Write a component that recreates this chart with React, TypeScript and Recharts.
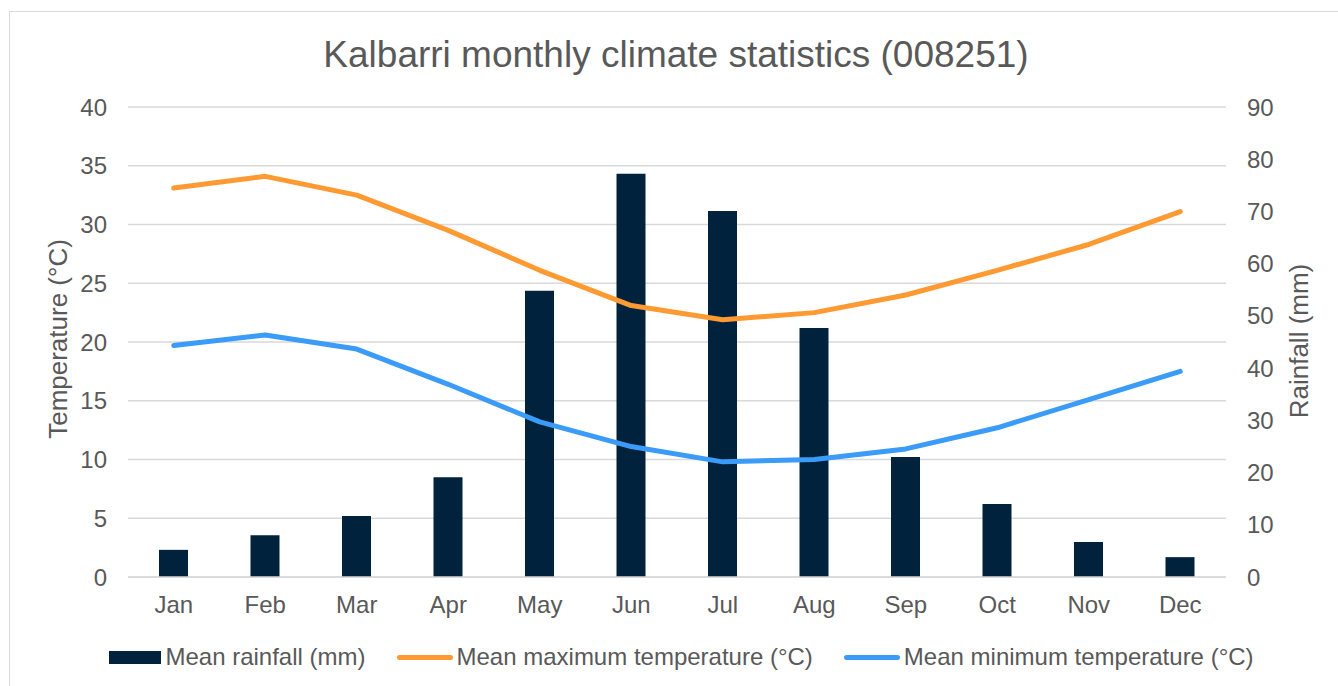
import {
  Bar,
  CartesianGrid,
  ComposedChart,
  Legend,
  Line,
  XAxis,
  YAxis,
} from "recharts";

const months = ["Jan", "Feb", "Mar", "Apr", "May", "Jun", "Jul", "Aug", "Sep", "Oct", "Nov", "Dec"];
const rainfall = [5.2, 8.0, 11.7, 19.1, 54.8, 77.2, 70.1, 47.7, 23.0, 14.0, 6.7, 3.8];
const maxTemp = [33.1, 34.1, 32.5, 29.5, 26.1, 23.1, 21.9, 22.5, 24.0, 26.1, 28.3, 31.1];
const minTemp = [19.7, 20.6, 19.4, 16.4, 13.2, 11.1, 9.8, 10.0, 10.9, 12.7, 15.1, 17.5];
const tempTicks = [0, 5, 10, 15, 20, 25, 30, 35, 40];
const rainTicks = [0, 10, 20, 30, 40, 50, 60, 70, 80, 90];

const data = months.map((m, i) => ({
  month: m,
  rain: rainfall[i],
  max: maxTemp[i],
  min: minTemp[i],
}));

const FONT = "'Liberation Sans', Arial, sans-serif";
const TEXT = "#595959";
const GRID = "#d9d9d9";
const NAVY = "#00223d";
const ORANGE = "#ff9a33";
const BLUE = "#3a9bf8";

const legendItems = [
  { label: "Mean rainfall (mm)", color: NAVY, kind: "bar" },
  { label: "Mean maximum temperature (°C)", color: ORANGE, kind: "line" },
  { label: "Mean minimum temperature (°C)", color: BLUE, kind: "line" },
];

function ChartLegend() {
  return (
    <div
      style={{
        display: "flex",
        justifyContent: "center",
        alignItems: "center",
        height: 40,
        paddingLeft: 25,
        gap: 31,
        fontFamily: FONT,
        fontSize: 24,
        color: TEXT,
      }}
    >
      {legendItems.map((it) => (
        <div key={it.label} style={{ display: "flex", alignItems: "center", gap: 4 }}>
          {it.kind === "bar" ? (
            <div style={{ width: 52, height: 13, background: it.color }} />
          ) : (
            <div style={{ width: 56, height: 5, borderRadius: 3, background: it.color }} />
          )}
          <span style={{ whiteSpace: "nowrap" }}>{it.label}</span>
        </div>
      ))}
    </div>
  );
}

export default function App() {
  return (
    <div
      style={{
        position: "absolute",
        left: 0,
        top: 0,
        width: 1338,
        height: 686,
        overflow: "hidden",
        background: "#fff",
      }}
    >
      <div
        style={{
          position: "absolute",
          left: 9,
          top: 11,
          width: 1340,
          height: 700,
          border: `1px solid ${GRID}`,
        }}
      />
      <div
        style={{
          position: "absolute",
          left: 0,
          top: 32,
          width: 1352,
          textAlign: "center",
          fontFamily: FONT,
          fontSize: 37,
          color: TEXT,
          lineHeight: "46px",
        }}
      >
        Kalbarri monthly climate statistics (008251)
      </div>
      <ComposedChart
        width={1338}
        height={686}
        data={data}
        margin={{ top: 107, right: 0, bottom: 29, left: 0 }}
        style={{ position: "absolute", left: 0, top: 0 }}
      >
        <CartesianGrid stroke={GRID} strokeWidth={1.5} vertical={false} yAxisId="temp" />
        <XAxis
          dataKey="month"
          height={40}
          tickSize={0}
          tickMargin={19}
          tickLine={false}
          axisLine={{ stroke: GRID, strokeWidth: 1.5 }}
          tick={{ fill: TEXT, fontSize: 24, fontFamily: FONT }}
          interval={0}
        />
        <YAxis
          yAxisId="temp"
          orientation="left"
          width={128}
          domain={[0, 40]}
          ticks={tempTicks}
          tickSize={0}
          tickMargin={21}
          tickLine={false}
          axisLine={false}
          tick={{ fill: TEXT, fontSize: 24, fontFamily: FONT }}
          label={{
            content: () => (
              <text
                x={58}
                y={339}
                transform="rotate(-90, 58, 339)"
                textAnchor="middle"
                dominantBaseline="central"
                fill={TEXT}
                fontSize={26}
                fontFamily={FONT}
              >
                Temperature (°C)
              </text>
            ),
          }}
        />
        <YAxis
          yAxisId="rain"
          orientation="right"
          width={112}
          domain={[0, 90]}
          ticks={rainTicks}
          tickSize={0}
          tickMargin={21}
          tickLine={false}
          axisLine={false}
          tick={{ fill: TEXT, fontSize: 24, fontFamily: FONT, textAnchor: "start" }}
          label={{
            content: () => (
              <text
                x={1299}
                y={341}
                transform="rotate(-90, 1299, 341)"
                textAnchor="middle"
                dominantBaseline="central"
                fill={TEXT}
                fontSize={26}
                fontFamily={FONT}
              >
                Rainfall (mm)
              </text>
            ),
          }}
        />
        <Legend
          verticalAlign="bottom"
          content={() => <ChartLegend />}
          wrapperStyle={{ top: 637, bottom: "auto", left: 0, width: 1338, height: 40 }}
        />
        <Bar
          yAxisId="rain"
          dataKey="rain"
          name="Mean rainfall (mm)"
          fill={NAVY}
          barSize={29}
          isAnimationActive={false}
        />
        <Line
          yAxisId="temp"
          type="linear"
          dataKey="max"
          name="Mean maximum temperature (°C)"
          stroke={ORANGE}
          strokeWidth={5}
          strokeLinecap="round"
          strokeLinejoin="round"
          dot={false}
          activeDot={false}
          isAnimationActive={false}
        />
        <Line
          yAxisId="temp"
          type="linear"
          dataKey="min"
          name="Mean minimum temperature (°C)"
          stroke={BLUE}
          strokeWidth={5}
          strokeLinecap="round"
          strokeLinejoin="round"
          dot={false}
          activeDot={false}
          isAnimationActive={false}
        />
      </ComposedChart>
    </div>
  );
}
